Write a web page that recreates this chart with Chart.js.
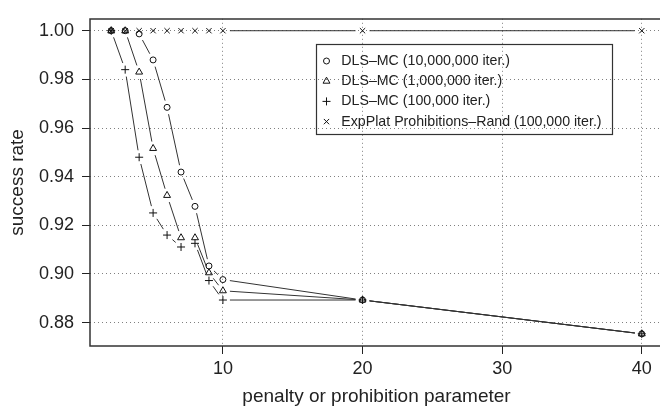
<!DOCTYPE html>
<html>
<head>
<meta charset="utf-8">
<script src="https://cdn.jsdelivr.net/npm/chart.js@4.4.0/dist/chart.umd.min.js"></script>
<style>
  html, body { margin: 0; padding: 0; background: #fff; overflow: hidden; }
  #wrap { width: 670px; height: 407px; }
</style>
</head>
<body>
<div id="wrap"><canvas id="graficoSucesso"></canvas></div>
<script>
// Valores
const penalty = [2, 3, 4, 5, 6, 7, 8, 9, 10, 20, 40];
const dls10M  = [1.000, 1.000, 0.9987, 0.9880, 0.9685, 0.9419, 0.9278, 0.9033, 0.8977, 0.8893, 0.8754];
const dls1M   = [1.000, 1.000, 0.9830, 0.9516, 0.9323, 0.9149, 0.9149, 0.9005, 0.8931, 0.8893, 0.8754];
const dls100k = [1.000, 0.9840, 0.9480, 0.9251, 0.9160, 0.9111, 0.9126, 0.8973, 0.8893, 0.8893, 0.8754];
const expPlat = [1.000, 1.000, 1.000, 1.000, 1.000, 1.000, 1.000, 1.000, 1.000, 1.000, 1.000];

const seriesNames = [
  "DLS\u2013MC (10,000,000 iter.)",
  "DLS\u2013MC (1,000,000 iter.)",
  "DLS\u2013MC (100,000 iter.)",
  "ExpPlat Prohibitions\u2013Rand (100,000 iter.)"
];
const xTicks = [10, 20, 30, 40];
const yTicks = [0.88, 0.90, 0.92, 0.94, 0.96, 0.98, 1.00];

Chart.defaults.font.family = '"Liberation Sans", Arial, sans-serif';
Chart.defaults.color = "#222";

// linhas com espaço em volta dos marcadores (como type="b" do R)
const GAP = 7;
function segLen(c) {
  return Math.hypot(c.p1.x - c.p0.x, c.p1.y - c.p0.y);
}
function gapDash(c) {
  const L = segLen(c);
  if (L <= 2 * GAP + 1) return [0, 10000];
  return [L - 2 * GAP, 2 * GAP];
}
function gapOffset(c) {
  const L = segLen(c);
  if (L <= 2 * GAP + 1) return 0;
  return L - GAP;
}

function pares(ys) {
  return penalty.map((x, i) => ({ x: x, y: ys[i] }));
}

function serie(label, ys, style, radius) {
  return {
    label: label,
    data: pares(ys),
    borderColor: "#333",
    borderWidth: 1,
    pointStyle: style,
    pointRadius: radius,
    pointBorderColor: "#111",
    pointBorderWidth: 1,
    pointBackgroundColor: "rgba(0,0,0,0)",
    tension: 0,
    fill: false,
    segment: { borderDash: gapDash, borderDashOffset: gapOffset }
  };
}

// moldura e legenda dentro do gráfico
const molduraLegenda = {
  id: "molduraLegenda",
  afterDraw(chart) {
    const ctx = chart.ctx;
    const a = chart.chartArea;
    ctx.save();
    ctx.strokeStyle = "#333";
    ctx.lineWidth = 1.5;
    ctx.setLineDash([]);
    ctx.strokeRect(Math.round(a.left), Math.round(a.top), Math.round(a.right - a.left), Math.round(a.bottom - a.top));

    const box = { left: 316, top: 44, right: 612, bottom: 134 };
    ctx.lineWidth = 1.2;
    ctx.strokeRect(box.left + 0.5, box.top + 0.5, box.right - box.left, box.bottom - box.top);

    ctx.font = '14.2px "Liberation Sans", Arial, sans-serif';
    ctx.textBaseline = "middle";
    ctx.textAlign = "left";
    chart.data.datasets.forEach((ds, i) => {
      const y = 61 + i * 20.2;
      ctx.fillStyle = "rgba(0,0,0,0)";
      ctx.strokeStyle = "#111";
      ctx.lineWidth = 1;
      if (Chart.helpers && Chart.helpers.drawPoint) {
        Chart.helpers.drawPoint(ctx, { pointStyle: ds.pointStyle, radius: ds.pointRadius, rotation: 0, borderWidth: 1 }, 326.5, y);
      }
      ctx.fillStyle = "#222";
      ctx.fillText(ds.label, 341.3, y);
    });
    ctx.restore();
  }
};

const ctx = document.getElementById("graficoSucesso").getContext("2d");
new Chart(ctx, {
  type: "line",
  data: {
    datasets: [
      serie(seriesNames[0], dls10M, "circle", 3),
      serie(seriesNames[1], dls1M, "triangle", 4),
      serie(seriesNames[2], dls100k, "cross", 4),
      serie(seriesNames[3], expPlat, "crossRot", 3.75)
    ]
  },
  options: {
    responsive: true,
    maintainAspectRatio: false,
    devicePixelRatio: 1,
    animation: false,
    layout: { padding: { top: 14, right: 7, bottom: 0, left: 0 } },
    scales: {
      x: {
        type: "linear",
        min: 0.48,
        max: 41.52,
        afterFit: s => { s.height = 61; },
        afterBuildTicks: s => { s.ticks = xTicks.map(v => ({ value: v })); },
        ticks: {
          autoSkip: false,
          maxRotation: 0,
          padding: 4,
          font: { size: 18 },
          color: "#222",
          callback: v => String(v)
        },
        grid: { color: "#808080", lineWidth: 1, tickLength: 8, tickColor: "#222", tickWidth: 1 },
        border: { display: false, dash: [1, 3] },
        title: {
          display: true,
          text: "penalty or prohibition parameter",
          font: { size: 19, lineHeight: 1.04 },
          color: "#222",
          padding: { top: 0, bottom: 0 }
        }
      },
      y: {
        min: 0.8704,
        max: 1.0049,
        afterFit: s => { s.width = 90; },
        afterBuildTicks: s => { s.ticks = yTicks.map(v => ({ value: v })); },
        ticks: {
          autoSkip: false,
          padding: 8,
          font: { size: 18 },
          color: "#222",
          callback: v => v.toFixed(2)
        },
        grid: { color: "#808080", lineWidth: 1, tickLength: 8, tickColor: "#222", tickWidth: 1 },
        border: { display: false, dash: [1, 3] },
        title: {
          display: true,
          text: "success rate",
          font: { size: 19 },
          color: "#222",
          padding: { top: 6, bottom: 0 }
        }
      }
    },
    plugins: {
      legend: { display: false },
      tooltip: { enabled: false }
    }
  },
  plugins: [molduraLegenda]
});
</script>
</body>
</html>
